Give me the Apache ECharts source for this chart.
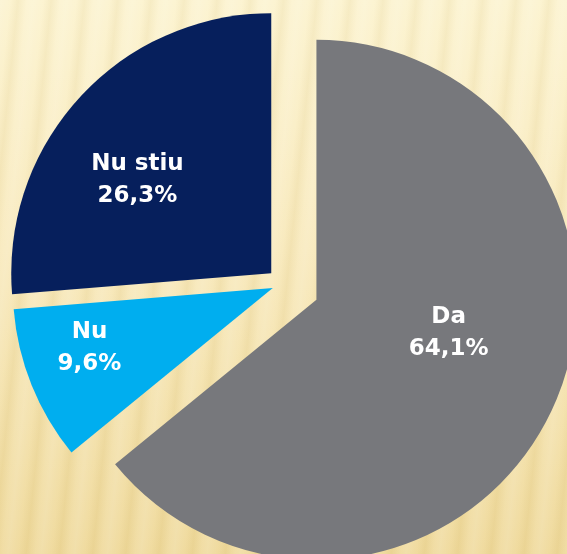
<!DOCTYPE html>
<html>
<head>
<meta charset="utf-8">
<script src="https://cdn.jsdelivr.net/npm/echarts@6/dist/echarts.min.js"></script>
<style>
    html, body {
        margin: 0;
        padding: 0;
        width: 567px;
        height: 554px;
        overflow: hidden;
    }
    body {
        background:
            repeating-linear-gradient(96deg,
                rgba(255, 255, 255, 0.16) 0px,
                rgba(255, 255, 255, 0.05) 10px,
                rgba(180, 150, 70, 0.08) 18px,
                rgba(255, 255, 255, 0.10) 27px,
                rgba(255, 255, 255, 0.16) 33px),
            linear-gradient(180deg, #fcf3cf 0%, #f8e9bb 45%, #efd99a 100%);
    }
    #chart {
        width: 567px;
        height: 554px;
    }
</style>
</head>
<body>
<div id="chart"></div>
<script>
// 分类与占比
const categories = ["Da", "Nu", "Nu stiu"]
const shares = [64.1, 9.6, 26.3]
const percentLabels = ["64,1%", "9,6%", "26,3%"]
const colors = ["#77787c", "#00aeef", "#061f5c"]

// 每块扇区的分离距离（原图各块不同）
const explodeOffsets = [37, 11, 16]
// 标签微调
const labelShifts = [[12, -24], [-60, 10], [-36, -3]]

const chart = echarts.init(document.getElementById("chart"))

/**
 * 每个系列只显示一块扇区，这样每块可以有自己的分离距离。
 */
const series = categories.map((_, k) => ({
    type: "pie",
    center: [283, 284],
    radius: 260,
    startAngle: 90,
    clockwise: true,
    silent: true,
    selectedMode: "multiple",
    selectedOffset: explodeOffsets[k],
    avoidLabelOverlap: false,
    labelLine: { show: false },
    label: {
        show: true,
        position: "inside",
        color: "#ffffff",
        fontFamily: "'DejaVu Sans', sans-serif",
        fontWeight: "bold",
        fontSize: 23,
        lineHeight: 32,
        formatter: params => `${params.name}\n${percentLabels[params.dataIndex]}`,
    },
    labelLayout: params => {
        const shift = labelShifts[params.dataIndex]
        return { dx: shift[0], dy: shift[1] }
    },
    data: categories.map((name, i) => ({
        name,
        value: shares[i],
        selected: i === k,
        itemStyle: {
            color: i === k ? colors[i] : "rgba(0,0,0,0)",
            borderWidth: 0,
        },
        label: { show: i === k },
    })),
}))

chart.setOption({
    animation: false,
    backgroundColor: "transparent",
    series,
})
</script>
</body>
</html>
